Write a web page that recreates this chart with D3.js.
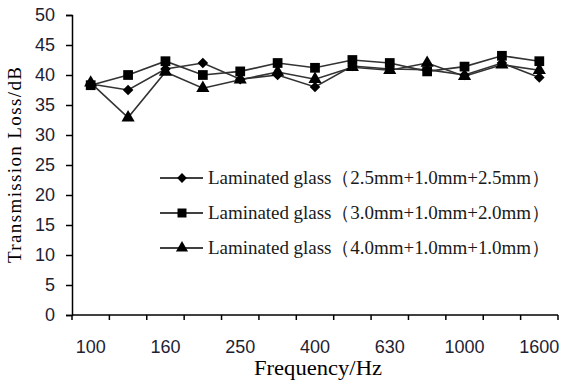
<!DOCTYPE html>
<html>
<head>
<meta charset="utf-8">
<script src="https://cdn.jsdelivr.net/npm/d3@7"></script>
<style>
  body { margin: 0; background: #fff; }
  svg { display: block; }
</style>
</head>
<body>
<svg class="svg"></svg>
<script>
const freqs = ["100", "125", "160", "200", "250", "315", "400", "500", "630", "800", "1000", "1250", "1600"];
const shownTicks = ["100", "160", "250", "400", "630", "1000", "1600"];
const yTicks = [0, 5, 10, 15, 20, 25, 30, 35, 40, 45, 50];

const glass1 = [38.5, 37.5, 41.0, 42.0, 39.3, 40.0, 38.0, 41.5, 41.0, 40.9, 40.0, 42.0, 39.6];
const glass2 = [38.3, 40.0, 42.3, 40.0, 40.6, 42.0, 41.2, 42.5, 42.0, 40.6, 41.4, 43.2, 42.3];
const glass3 = [38.7, 32.9, 40.5, 37.8, 39.2, 40.5, 39.3, 41.3, 40.8, 42.0, 39.8, 41.7, 40.8];

const names = [
  "Laminated glass（2.5mm+1.0mm+2.5mm）",
  "Laminated glass（3.0mm+1.0mm+2.0mm）",
  "Laminated glass（4.0mm+1.0mm+1.0mm）"
];

// diamond = square turned 45deg, wider than d3's own diamond
const series = [
  { name: names[0], values: glass1, symbol: d3.symbolSquare, size: 56, rot: 45 },
  { name: names[1], values: glass2, symbol: d3.symbolSquare, size: 95, rot: 0 },
  { name: names[2], values: glass3, symbol: d3.symbolTriangle, size: 75, rot: 0 }
];

const width = 562, height = 384;
const svg = d3.select(".svg").attr("width", width).attr("height", height);

const x = d3.scaleBand().domain(freqs).range([72, 558]);
const y = d3.scaleLinear().domain([0, 50]).range([315, 15]);

const sans = "'Liberation Sans', Arial, sans-serif";
const serif = "'Liberation Serif', 'Times New Roman', serif";

// y axis
const yAxis = svg.append("g")
  .attr("transform", `translate(${x.range()[0]},0)`)
  .call(d3.axisLeft(y).tickValues(yTicks).tickSize(6).tickPadding(11));
yAxis.selectAll("text").attr("font-family", sans).attr("font-size", 18).attr("fill", "#1e1e33");
yAxis.select(".domain").attr("stroke-width", 1.5);
yAxis.selectAll(".tick line").attr("stroke-width", 1.5);

// x axis, ticks on band edges
const xAxis = svg.append("g").attr("transform", `translate(0,${y(0)})`);
xAxis.append("line")
  .attr("x1", x.range()[0]).attr("x2", x.range()[1])
  .attr("stroke", "#000").attr("stroke-width", 1.5);
xAxis.selectAll("line.tk")
  .data(freqs.concat(["end"]))
  .join("line")
  .attr("class", "tk")
  .attr("x1", (d, i) => x.range()[0] + i * x.step())
  .attr("x2", (d, i) => x.range()[0] + i * x.step())
  .attr("y1", 0).attr("y2", 5)
  .attr("stroke", "#000").attr("stroke-width", 1.5);
xAxis.selectAll("text")
  .data(shownTicks)
  .join("text")
  .attr("x", d => x(d) + x.bandwidth() / 2)
  .attr("y", 38)
  .attr("text-anchor", "middle")
  .attr("font-family", sans).attr("font-size", 18).attr("fill", "#1e1e33")
  .text(d => d);

// titles
svg.append("text")
  .attr("x", 318).attr("y", 375)
  .attr("text-anchor", "middle")
  .attr("font-family", serif).attr("font-size", 20)
  .attr("textLength", 128).attr("lengthAdjust", "spacingAndGlyphs")
  .text("Frequency/Hz");

svg.append("text")
  .attr("transform", "translate(21,165) rotate(-90)")
  .attr("text-anchor", "middle")
  .attr("font-family", serif).attr("font-size", 19)
  .attr("textLength", 196).attr("lengthAdjust", "spacing")
  .text("Transmission Loss/dB");

// lines and markers
const cx = d => x(d) + x.bandwidth() / 2;
const line = d3.line().x((d, i) => cx(freqs[i])).y(d => y(d));

const g = svg.append("g");
series.forEach(s => {
  g.append("path")
    .datum(s.values)
    .attr("d", line)
    .attr("fill", "none")
    .attr("stroke", "#333")
    .attr("stroke-width", 1.6);
});
series.forEach(s => {
  g.selectAll(null)
    .data(s.values)
    .join("path")
    .attr("transform", (d, i) => `translate(${cx(freqs[i])},${y(d)}) rotate(${s.rot})`)
    .attr("d", d3.symbol().type(s.symbol).size(s.size))
    .attr("fill", "#000");
});

// legend
const legend = svg.append("g");
series.forEach((s, i) => {
  const ly = 178 + i * 35;
  legend.append("line")
    .attr("x1", 160).attr("x2", 203).attr("y1", ly).attr("y2", ly)
    .attr("stroke", "#000").attr("stroke-width", 1.5);
  legend.append("path")
    .attr("transform", `translate(182,${ly}) rotate(${s.rot})`)
    .attr("d", d3.symbol().type(s.symbol).size(s.size * 0.85))
    .attr("fill", "#000");
  legend.append("text")
    .attr("x", 208).attr("y", ly + 6)
    .attr("font-family", serif).attr("font-size", 19)
    .attr("fill", "#1a1a1a")
    .attr("textLength", 342).attr("lengthAdjust", "spacing")
    .text(s.name);
});
</script>
</body>
</html>
